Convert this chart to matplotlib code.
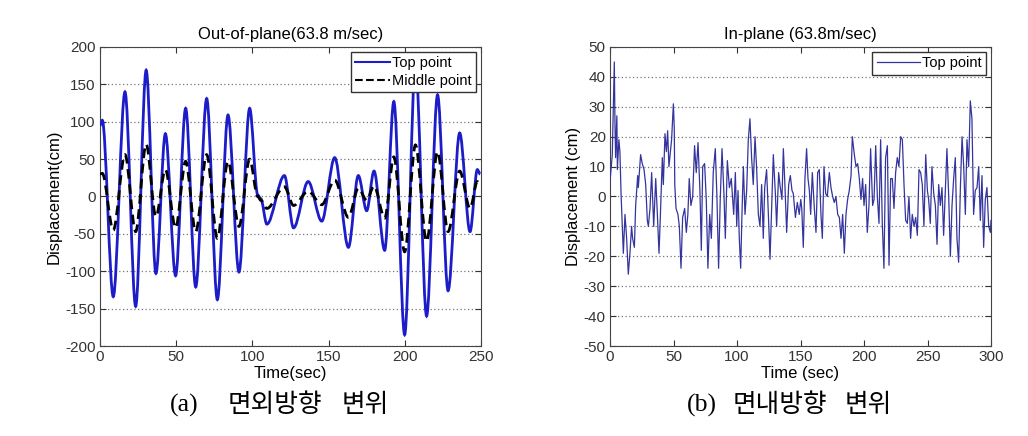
import matplotlib.pyplot as plt
from matplotlib.path import Path
from matplotlib.patches import PathPatch
from matplotlib.lines import Line2D

# (a) out-of-plane, peaks/valleys
top_t = [0, 1.5, 8.7, 16.4, 23.4, 30.3, 36.7, 42.9, 49.6, 56.2, 62.8, 70.0, 77.0,
         84.0, 91.2, 98.2, 103.5, 105.5, 109.5, 121.0, 127.0, 136.6, 145.5, 154.0,
         163.0, 169.5, 175.0, 179.8, 186.8, 192.8, 199.9, 207.0, 214.3, 221.5,
         228.4, 236.0, 242.8, 247.6, 249.5]
top_v = [95, 102, -134, 140, -147, 169, -103, 84, -106, 118, -121, 131, -138,
         109, -101, 118, 2, -3, -37, 28, -42, 20, -33, 52,
         -68, 28, -19, 34, -72, 127, -185, 180, -160, 136,
         -126, 85, -47, 36, 30]
mid_v = [30, 31, -45, 56, -47, 70, -27, 36, -42, 47, -47, 56, -56,
         47, -40, 50, 0, -5, -16, 13, -12, 7, -11, 22,
         -28, 11, -5, 14, -29, 53, -74, 69, -60, 60,
         -47, 34, -16, 20, 15]

# (b) in-plane, top point
in_t = [0.0, 1.8, 3.4, 3.9, 4.4, 5.4, 5.8, 7.0, 7.8, 8.7, 9.7, 10.5, 11.8, 13.1,
        14.4, 15.7, 17.0, 17.8, 19.2, 20.2, 21.8, 22.3, 24.1, 25.4, 26.8, 28.1,
        29.4, 30.2, 31.5, 32.8, 34.4, 36.0, 37.3, 38.6, 39.7, 41.2, 42.0, 43.3,
        44.4, 45.4, 46.4, 48.5, 49.9, 50.6, 51.0, 52.0, 53.5, 54.6, 55.9, 57.2,
        58.8, 60.1, 61.3, 62.4, 63.7, 65.1, 66.6, 67.9, 69.3, 70.8, 71.9, 73.0,
        74.5, 75.8, 77.1, 78.5, 79.8, 81.3, 82.9, 84.2, 85.5, 86.8, 88.2, 89.7,
        90.8, 92.4, 94.0, 95.5, 97.4, 98.7, 99.8, 100.8, 101.8, 102.9, 103.9,
        105.0, 106.3, 107.6, 108.9, 110.2, 111.5, 112.8, 114.2, 115.5, 116.8,
        118.1, 119.4, 120.7, 121.8, 123.3, 124.7, 126.0, 127.3, 128.6, 130.2,
        131.2, 132.8, 133.8, 135.4, 136.5, 137.8, 139.1, 140.7, 142.0, 143.3,
        144.3, 146.0, 147.5, 149.0, 150.2, 151.0, 152.2, 153.5, 154.8, 155.9,
        157.0, 158.0, 159.3, 160.9, 162.2, 163.5, 164.8, 166.1, 167.2, 168.5,
        169.8, 171.1, 172.7, 174.0, 175.3, 176.6, 177.9, 179.3, 180.6, 181.9,
        183.2, 184.5, 185.8, 187.1, 188.4, 189.8, 190.8, 192.4, 193.7, 195.0,
        196.3, 197.6, 198.9, 200.0, 201.3, 202.6, 203.9, 205.2, 206.8, 207.9,
        209.2, 210.5, 211.8, 213.1, 214.4, 215.7, 217.0, 218.4, 219.7, 221.0,
        222.3, 223.6, 224.9, 226.2, 227.5, 228.9, 230.2, 231.5, 232.8, 234.1,
        235.4, 236.7, 238.0, 239.4, 240.7, 242.0, 243.3, 244.6, 245.9, 247.2,
        248.6, 249.9, 250.9, 252.2, 253.5, 254.9, 256.2, 257.5, 258.8, 260.1,
        261.4, 262.7, 264.0, 265.3, 266.7, 268.0, 269.3, 270.6, 271.9, 273.2,
        274.5, 275.9, 277.2, 278.5, 279.8, 281.1, 282.4, 283.7, 285.0, 286.3,
        287.6, 289.0, 290.3, 291.6, 292.9, 294.2, 295.5, 296.8, 298.2, 299.5,
        300.0]
in_v = [5, 14, 45, 25, 13, 27, 9, 19, 15, 1, -10, -19, -6, -14,
        -26, -19, -10, -14, -17, -3, 7, 3, 14, 11, 9, 4,
        -8, -10, -4, 8, -10, 6, -6, -19, -6, 13, 4, 21,
        15, 22, 10, 19, 31, 23, 4, -4, -6, -10, -24, -7,
        -4, -12, -6, 6, -3, 0, 17, 8, 18, 2, -18, 10,
        11, -1, -24, -6, -14, 8, 16, 0, -24, -1, 16, 1,
        -14, 12, 3, 6, -6, 8, -10, 2, -14, -24, -6,
        10, -6, 2, 19, 26, 13, 4, 20, 9, -6,
        -10, 4, -14, 3, 9, -6, -21, -3, 14, 1,
        -10, 8, 4, -1, 16, 3, -12, 4, 7, 2,
        1, -7, -2, -6, -1, -4, -17, 6, 16, 6,
        2, -6, 8, -4, -12, 8, 9, -6, -14, 10,
        1, 0, 8, 3, 0, -2, 0, -6, -7, -14,
        -6, -19, -6, -1, 2, 7, 20, 14, 10, 11,
        6, -1, 6, -3, 4, -12, -3, 16, -3, -1,
        17, 0, -9, 19, -9, -24, 13, 17, -23, 6,
        6, -4, 8, 13, 10, 20, 19, 4, -8, -9,
        0, -14, -6, -10, -7, -13, 9, 8, 4, -10,
        14, 2, -1, -9, 10, 1, -3, -16, 4, -3,
        3, -13, 2, 16, 0, -20, -3, 6, 13, -14,
        -22, 3, 20, 10, -6, 19, 10, 32, 26, -6,
        2, 3, 10, -8, 7, -17, -1, 3, -10, -12,
        -8]


def smooth_path(t, v):
    # cubic segments with flat tangents at each read peak/valley
    verts = [(t[0], v[0])]
    codes = [Path.MOVETO]
    for i in range(len(t) - 1):
        d = (t[i + 1] - t[i]) / 3.0
        verts += [(t[i] + d, v[i]), (t[i + 1] - d, v[i + 1]), (t[i + 1], v[i + 1])]
        codes += [Path.CURVE4] * 3
    return Path(verts, codes)


plt.rcParams['font.family'] = ['Liberation Sans', 'DejaVu Sans']
plt.rcParams['font.size'] = 11
plt.rcParams['axes.unicode_minus'] = False

fig = plt.figure(figsize=(10.28, 4.36), dpi=100)
ax1 = fig.add_axes([100 / 1028, 90 / 436, 381 / 1028, 299 / 436])
ax2 = fig.add_axes([610 / 1028, 90 / 436, 381 / 1028, 299 / 436])

top_color = "#1c1cc8"
ax1.add_patch(PathPatch(smooth_path(top_t, top_v), fill=False, edgecolor=top_color,
                        lw=2.0, zorder=3))
ax1.add_patch(PathPatch(smooth_path(top_t, mid_v), fill=False, edgecolor="black",
                        lw=2.0, linestyle=(0, (3.5, 2)), zorder=4))
ax1.set_xlim(0, 250)
ax1.set_ylim(-200, 200)
ax1.set_xticks(range(0, 251, 50))
ax1.set_yticks(range(-200, 201, 50))
ax1.set_title("Out-of-plane(63.8 m/sec)", fontsize=12, pad=6)
ax1.set_xlabel("Time(sec)", fontsize=12, labelpad=1)
ax1.set_ylabel("Displacement(cm)", fontsize=12)
ax1.yaxis.set_label_coords(-0.102, 0.5)
handles = [Line2D([], [], color=top_color, lw=1.5),
           Line2D([], [], color="black", lw=1.5, linestyle="--")]
leg1 = ax1.legend(handles, ["Top point", "Middle point"], loc="upper right",
                  fontsize=10.5, fancybox=False, framealpha=1, edgecolor="#333333",
                  borderaxespad=0.35, handlelength=2.4, handletextpad=0.1,
                  borderpad=0.3, labelspacing=0.25)
leg1.set_zorder(10)

ax2.plot(in_t, in_v, color="#34349e", lw=0.9, label="Top point", zorder=3)
ax2.set_xlim(0, 300)
ax2.set_ylim(-50, 50)
ax2.set_xticks(range(0, 301, 50))
ax2.set_yticks(range(-50, 51, 10))
ax2.set_title("In-plane (63.8m/sec)", fontsize=12, pad=6)
ax2.set_xlabel("Time (sec)", fontsize=12, labelpad=1)
ax2.set_ylabel("Displacement (cm)", fontsize=12)
ax2.yaxis.set_label_coords(-0.077, 0.5)
leg2 = ax2.legend(loc="upper right", fontsize=10.5, fancybox=False, framealpha=1,
                  edgecolor="#333333", borderaxespad=0.35, handlelength=3.0,
                  handletextpad=0.1, borderpad=0.3)
leg2.set_zorder(10)

for ax in (ax1, ax2):
    ax.yaxis.grid(True, linestyle=(0, (1, 2)), color="#777777", lw=0.9)
    ax.set_axisbelow(True)
    ax.tick_params(direction="in", top=True, right=True, length=4,
                   labelsize=11, colors="#333333", pad=3)
    for s in ax.spines.values():
        s.set_color("#444444")
        s.set_linewidth(0.8)

# captions under each panel
cap_font = ['Liberation Serif', 'Noto Sans CJK KR']
cap_y = 1 - 405 / 436
for x, s in [(170, "(a)"), (228, "면외방향"), (342, "변위"),
             (687, "(b)"), (733, "면내방향"), (845, "변위")]:
    fig.text(x / 1028, cap_y, s, ha="left", va="center", fontsize=18.5,
             family=cap_font)

fig.savefig("out.png", dpi=100)
